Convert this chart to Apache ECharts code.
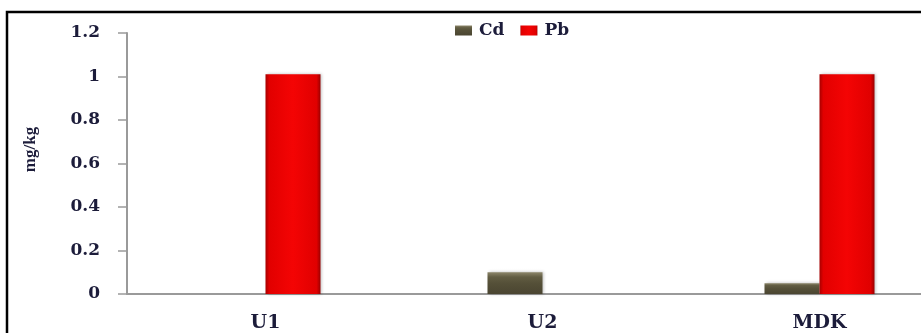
<!DOCTYPE html>
<html>
<head>
<meta charset="utf-8">
<title>Cd and Pb concentrations</title>
<script src="https://cdn.jsdelivr.net/npm/echarts@6/dist/echarts.min.js"></script>
<style>
  html, body { margin: 0; padding: 0; background: #fff; overflow: hidden; }
  #chart { width: 960px; height: 333px; }
</style>
</head>
<body>
<div id="chart"></div>
<script>
// Sampling sites and measured concentrations (mg/kg)
const sites = ['U1', 'U2', 'MDK'];
const cdValues = [0, 0.10, 0.05];
const pbValues = [1.01, 0, 1.01];
const yTicks = { min: 0, max: 1.2, step: 0.2 };

const labelFont = '"DejaVu Serif", "Liberation Serif", serif';
const inkColor = '#1c1c3a';

const chart = echarts.init(document.getElementById('chart'), null, { renderer: 'canvas' });

const redFill = new echarts.graphic.LinearGradient(0, 0, 1, 0, [
  { offset: 0, color: '#a80000' },
  { offset: 0.07, color: '#e20000' },
  { offset: 0.5, color: '#f40404' },
  { offset: 0.93, color: '#e00000' },
  { offset: 1, color: '#9a0000' }
]);
const oliveFill = new echarts.graphic.LinearGradient(0, 0, 0, 1, [
  { offset: 0, color: '#8c866a' },
  { offset: 0.22, color: '#625d43' },
  { offset: 0.5, color: '#555038' },
  { offset: 1, color: '#4a4531' }
]);

chart.setOption({
  animation: false,
  backgroundColor: '#ffffff',
  graphic: [{
    type: 'rect',
    shape: { x: 7, y: 12, width: 1200, height: 600 },
    style: { fill: 'none', stroke: '#000', lineWidth: 2.5 },
    silent: true
  }],
  legend: {
    top: 17,
    left: 450,
    itemWidth: 17,
    itemHeight: 10,
    itemGap: 16,
    icon: 'rect',
    textStyle: { fontFamily: labelFont, fontWeight: 'bold', fontSize: 17, color: inkColor, padding: [0, 0, 0, 2] },
    data: ['Cd', 'Pb']
  },
  grid: { left: 127, top: 33, width: 831, height: 266 },
  xAxis: {
    type: 'category',
    data: sites,
    axisLine: { lineStyle: { color: '#9a9a9a', width: 2 } },
    axisTick: { show: false },
    axisLabel: { margin: 20, fontFamily: labelFont, fontWeight: 'bold', fontSize: 19, color: inkColor }
  },
  yAxis: {
    type: 'value',
    min: yTicks.min,
    max: yTicks.max,
    interval: yTicks.step,
    name: 'mg/kg',
    nameLocation: 'middle',
    nameGap: 88,
    nameRotate: 90,
    nameTextStyle: { fontFamily: '"Liberation Serif", serif', fontWeight: 'bold', fontSize: 17, color: inkColor, padding: [0, 0, 0, 28] },
    splitLine: { show: false },
    axisLine: { show: true, lineStyle: { color: '#9a9a9a', width: 2 } },
    axisTick: { show: true, inside: false, length: 9, lineStyle: { color: '#9a9a9a', width: 1.5 } },
    axisLabel: {
      margin: 27,
      fontFamily: labelFont, fontWeight: 'bold', fontSize: 17, color: inkColor,
      formatter: v => String(Math.round(v * 10) / 10)
    }
  },
  series: [
    {
      name: 'Cd',
      type: 'bar',
      data: cdValues,
      barWidth: 55,
      barGap: '0%',
      itemStyle: { color: oliveFill, shadowColor: 'rgba(0,0,0,0.25)', shadowBlur: 3, shadowOffsetX: 1 }
    },
    {
      name: 'Pb',
      type: 'bar',
      data: pbValues,
      barWidth: 55,
      barGap: '0%',
      itemStyle: { color: redFill, shadowColor: 'rgba(0,0,0,0.25)', shadowBlur: 3, shadowOffsetX: 1 }
    }
  ]
});
</script>
</body>
</html>
